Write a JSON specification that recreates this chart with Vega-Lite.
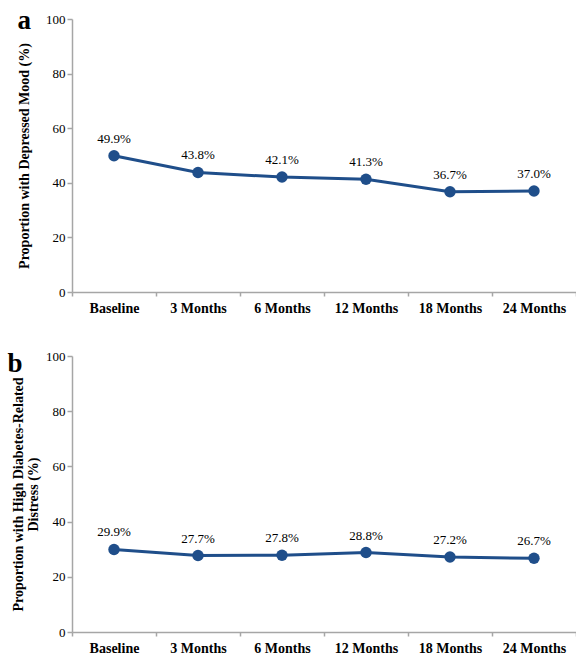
{
  "$schema": "https://vega.github.io/schema/vega-lite/v6.json",
  "padding": {"left": 7, "top": 7, "right": 0, "bottom": 0},
  "background": "white",
  "config": {
    "font": "Liberation Serif",
    "view": {"stroke": null},
    "axis": {
      "domainColor": "#a6a6a6", "tickColor": "#a6a6a6", "grid": false,
      "labelFont": "Liberation Serif", "titleFont": "Liberation Serif",
      "labelColor": "#000", "titleColor": "#000",
      "labelFontSize": 13, "titleFontSize": 14, "titleFontWeight": "bold",
      "domainWidth": 1.5, "tickWidth": 1.5
    }
  },
  "datasets": {
    "a": [
      {"time": "Baseline", "value": 49.9, "label": "49.9%"},
      {"time": "3 Months", "value": 43.8, "label": "43.8%"},
      {"time": "6 Months", "value": 42.1, "label": "42.1%"},
      {"time": "12 Months", "value": 41.3, "label": "41.3%"},
      {"time": "18 Months", "value": 36.7, "label": "36.7%"},
      {"time": "24 Months", "value": 37.0, "label": "37.0%"}
    ],
    "b": [
      {"time": "Baseline", "value": 29.9, "label": "29.9%"},
      {"time": "3 Months", "value": 27.7, "label": "27.7%"},
      {"time": "6 Months", "value": 27.8, "label": "27.8%"},
      {"time": "12 Months", "value": 28.8, "label": "28.8%"},
      {"time": "18 Months", "value": 27.2, "label": "27.2%"},
      {"time": "24 Months", "value": 26.7, "label": "26.7%"}
    ]
  },
  "spacing": 35,
  "vconcat": [
    {
      "width": 504, "height": 273,
      "data": {"name": "a"},
      "title": {"text": "a", "anchor": "start", "frame": "bounds", "fontSize": 27, "fontWeight": "bold", "font": "Liberation Serif", "color": "#000", "baseline": "alphabetic", "offset": 0, "dy": 43, "dx": 0},
      "encoding": {
        "x": {"field": "time", "type": "nominal", "sort": null, "scale": {"paddingInner": 0, "paddingOuter": 0},
          "axis": {"title": null, "labelAngle": 0, "labelFontWeight": "bold", "labelFontSize": 14, "tickBand": "extent", "labelPadding": 5, "tickSize": 4}},
        "y": {"field": "value", "type": "quantitative", "scale": {"domain": [0, 100]},
          "axis": {"title": "Proportion with Depressed Mood (%)", "values": [0, 20, 40, 60, 80, 100], "tickSize": 5, "titlePadding": 14}}
      },
      "layer": [
        {"mark": {"type": "line", "color": "#1f4e8a", "strokeWidth": 3}},
        {"mark": {"type": "point", "filled": true, "size": 130, "color": "#1f4e8a", "opacity": 1}},
        {"mark": {"type": "text", "dy": -17, "fontSize": 13, "font": "Liberation Serif", "color": "#000"}, "encoding": {"text": {"field": "label"}}}
      ]
    },
    {
      "width": 504, "height": 276,
      "data": {"name": "b"},
      "title": {"text": "b", "anchor": "start", "frame": "bounds", "fontSize": 27, "fontWeight": "bold", "font": "Liberation Serif", "color": "#000", "baseline": "alphabetic", "offset": 0, "dy": 49, "dx": -4},
      "encoding": {
        "x": {"field": "time", "type": "nominal", "sort": null, "scale": {"paddingInner": 0, "paddingOuter": 0},
          "axis": {"title": null, "labelAngle": 0, "labelFontWeight": "bold", "labelFontSize": 14, "tickBand": "extent", "labelPadding": 5, "tickSize": 4}},
        "y": {"field": "value", "type": "quantitative", "scale": {"domain": [0, 100]},
          "axis": {"title": ["Proportion with High Diabetes-Related", "Distress (%)"], "values": [0, 20, 40, 60, 80, 100], "tickSize": 5, "titlePadding": 5, "titleLineHeight": 15}}
      },
      "layer": [
        {"mark": {"type": "line", "color": "#1f4e8a", "strokeWidth": 3}},
        {"mark": {"type": "point", "filled": true, "size": 130, "color": "#1f4e8a", "opacity": 1}},
        {"mark": {"type": "text", "dy": -17, "fontSize": 13, "font": "Liberation Serif", "color": "#000"}, "encoding": {"text": {"field": "label"}}}
      ]
    }
  ]
}
